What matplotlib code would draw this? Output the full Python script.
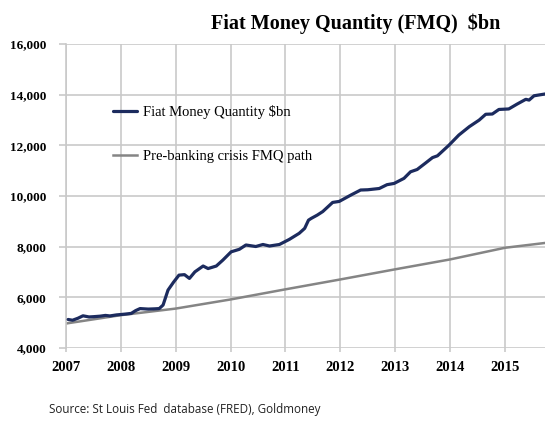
import matplotlib
matplotlib.use("Agg")
import matplotlib.pyplot as plt

# Fiat money quantity (decimal year, $bn)
fmq_year = [2007.04, 2007.12, 2007.22, 2007.31, 2007.42, 2007.5, 2007.62, 2007.72,
            2007.8, 2007.92, 2008.07, 2008.19, 2008.27, 2008.35, 2008.5, 2008.62,
            2008.7, 2008.77, 2008.86, 2008.96, 2009.06, 2009.16, 2009.25, 2009.35,
            2009.5, 2009.59, 2009.74, 2009.86, 2010.01, 2010.16, 2010.28, 2010.46,
            2010.59, 2010.71, 2010.89, 2011.07, 2011.25, 2011.35, 2011.42, 2011.47,
            2011.58, 2011.68, 2011.86, 2011.98, 2012.2, 2012.37, 2012.5, 2012.71,
            2012.85, 2012.98, 2013.16, 2013.28, 2013.4, 2013.55, 2013.68, 2013.77,
            2013.98, 2014.16, 2014.35, 2014.53, 2014.65, 2014.77, 2014.89, 2015.07,
            2015.22, 2015.38, 2015.44, 2015.53, 2015.73]
fmq_value = [5130, 5100, 5180, 5275, 5230, 5240, 5260, 5290,
             5270, 5310, 5340, 5370, 5480, 5560, 5540, 5550,
             5560, 5700, 6290, 6600, 6880, 6900, 6750, 7010,
             7240, 7140, 7240, 7475, 7800, 7900, 8070, 8010,
             8090, 8030, 8090, 8290, 8530, 8725, 9050, 9120,
             9250, 9390, 9750, 9790, 10050, 10240, 10250, 10300,
             10450, 10500, 10700, 10960, 11050, 11300, 11520, 11590,
             12010, 12410, 12740, 13000, 13230, 13240, 13420, 13440,
             13630, 13820, 13790, 13960, 14030]

# pre-banking crisis trend path
path_year = [2007.0, 2008.0, 2009.0, 2010.0, 2011.0, 2012.0, 2013.0, 2014.0, 2015.0, 2015.73]
path_value = [4970, 5300, 5560, 5920, 6320, 6710, 7110, 7500, 7960, 8150]

years = list(range(2007, 2016))
y_ticks = [4000, 6000, 8000, 10000, 12000, 14000, 16000]

navy = "#1c2b5e"
grey = "#858585"
grid_c = "#c9c9c9"
serif = ["Liberation Serif", "DejaVu Serif"]

fig = plt.figure(figsize=(5.45, 4.24), dpi=100)
ax = fig.add_axes([0.121, 0.179, 0.879, 0.717])

ax.plot(fmq_year, fmq_value, color=navy, linewidth=2.3, solid_capstyle="round",
        label="Fiat Money Quantity $bn", zorder=3)
ax.plot(path_year, path_value, color=grey, linewidth=1.8,
        label="Pre-banking crisis FMQ path", zorder=2)

ax.set_xlim(2007, 2015.73)
ax.set_ylim(4000, 16000)
ax.set_xticks(years)
ax.set_xticklabels([str(y) for y in years], family=serif, fontweight="bold", fontsize=10.5)
ax.set_yticks(y_ticks)
ax.set_yticklabels([f"{v:,}" for v in y_ticks], family=serif, fontweight="bold", fontsize=9.5)

ax.grid(True, color=grid_c, linewidth=1.2)
ax.set_axisbelow(True)
for side in ["top", "right", "bottom"]:
    ax.spines[side].set_visible(False)
ax.spines["left"].set_color(grid_c)
ax.spines["left"].set_linewidth(1.2)
ax.tick_params(axis="y", length=5, color=grid_c, width=1.2, pad=9)
ax.tick_params(axis="x", length=3, color=grid_c, width=1.2, pad=6)

# Legend
ax.legend(loc="upper left", bbox_to_anchor=(0.071, 0.844), frameon=False,
          prop={"family": serif, "size": 10.5}, handlelength=1.65, handletextpad=0.4,
          labelspacing=2.15)

fig.text(0.652, 0.945, "Fiat Money Quantity (FMQ)  $bn", ha="center", va="center",
         family=serif, fontweight="bold", fontsize=14.5)
fig.text(0.09, 0.035, "Source: St Louis Fed  database (FRED), Goldmoney", ha="left",
         va="center", family=["Open Sans", "DejaVu Sans"], fontsize=8.4, color="#222222")

fig.savefig("out.png", dpi=100)
